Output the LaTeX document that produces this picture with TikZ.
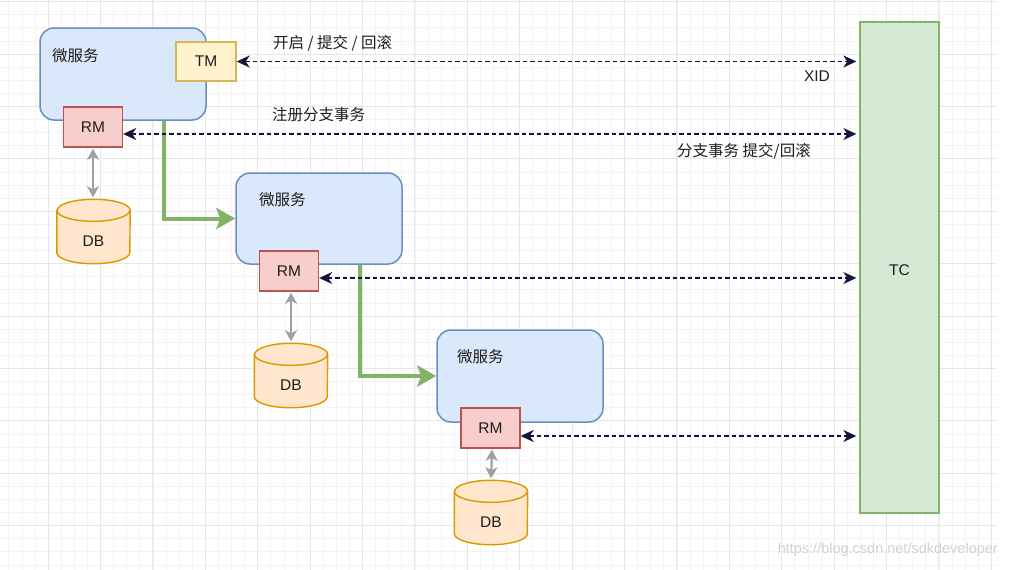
\documentclass[tikz,border=0pt]{standalone}
\usepackage{fontspec}
\setmainfont{Liberation Sans}
\newfontfamily\cjk{Noto Sans CJK SC}
\usetikzlibrary{arrows.meta}
\definecolor{msfill}{HTML}{DAE8FC}
\definecolor{msline}{HTML}{6C8EBF}
\definecolor{tmfill}{HTML}{FFF2CC}
\definecolor{tmline}{HTML}{D6B656}
\definecolor{rmfill}{HTML}{F8CECC}
\definecolor{rmline}{HTML}{B85450}
\definecolor{dbfill}{HTML}{FFE6CC}
\definecolor{dbline}{HTML}{D79B00}
\definecolor{tcfill}{HTML}{D5E8D4}
\definecolor{tcline}{HTML}{82B366}
\definecolor{flow}{HTML}{82B366}
\definecolor{navy}{HTML}{14143C}
\definecolor{txt}{HTML}{1E1E1E}
\definecolor{dbarr}{HTML}{A0A0A0}
\definecolor{gridmajor}{HTML}{E6E6E6}
\definecolor{gridminor}{HTML}{F3F3F3}
\definecolor{wm}{HTML}{D2D2D2}
\tikzset{
  lbl/.style={inner sep=0pt, text=txt, font=\fontsize{15.5}{18}\selectfont},
  msbox/.style={draw=msline, fill=msfill, line width=1.5pt, rounded corners=14pt, minimum width=166pt, minimum height=92pt, inner sep=0pt},
  tmbox/.style={draw=tmline, fill=tmfill, line width=1.4pt, minimum width=60pt, minimum height=39pt, inner sep=0pt, text=txt, font=\fontsize{15.5}{18}\selectfont},
  rmbox/.style={draw=rmline, fill=rmfill, line width=1.4pt, minimum width=59pt, minimum height=40pt, inner sep=0pt, text=txt, font=\fontsize{15.5}{18}\selectfont},
  dbbox/.style={minimum width=73pt, minimum height=64pt, inner sep=0pt},
  dbbody/.style={draw=dbline, fill=dbfill, line width=1.4pt},
  dbrim/.style={draw=dbline, line width=1.4pt},
  tcbox/.style={draw=tcline, fill=tcfill, line width=1.4pt, minimum width=79pt, minimum height=491pt, inner sep=0pt},
  flowarrow/.style={draw=flow, line width=4pt, -{Stealth[length=19pt,width=21pt,inset=4pt]}},
  dbarrow/.style={draw=dbarr, line width=2.2pt, {Stealth[length=11pt,width=12pt,inset=3pt]}-{Stealth[length=11pt,width=12pt,inset=3pt]}},
  callarrow/.style={draw=navy, line width=1.6pt, dash pattern=on 4.5pt off 3pt, {Stealth[length=13pt,width=12pt,inset=4pt]}-{Stealth[length=13pt,width=12pt,inset=4pt]}, shorten >=3pt},
}
\newcommand{\dbdraw}[1]{%
  \path[dbbody] ([yshift=-11pt]#1.north west) -- ([yshift=11pt]#1.south west)
    arc[start angle=180,end angle=360,x radius=36.5pt,y radius=11pt]
    -- ([yshift=-11pt]#1.north east)
    arc[start angle=0,end angle=180,x radius=36.5pt,y radius=11pt] -- cycle;
  \draw[dbrim] ([yshift=-11pt]#1.north west)
    arc[start angle=180,end angle=360,x radius=36.5pt,y radius=11pt];
}
\begin{document}
\begin{tikzpicture}[x=1pt,y=-1pt]
\useasboundingbox[fill=white] (0,0) rectangle (1009,570);
% grid
\begin{scope}
\clip (0,0) rectangle (997,570);
\foreach \i in {0,...,77} {
  \draw[gridminor, line width=0.8pt] ({-4.3+13.1*\i},0) -- ({-4.3+13.1*\i},570);
}
\foreach \i in {0,...,44} {
  \draw[gridminor, line width=0.8pt] (0,{1.6+13.1*\i}) -- (997,{1.6+13.1*\i});
}
\foreach \i in {0,...,19} {
  \draw[gridmajor, line width=1pt] ({-4.3+52.4*\i},0) -- ({-4.3+52.4*\i},570);
}
\foreach \i in {0,...,11} {
  \draw[gridmajor, line width=1pt] (0,{1.6+52.4*\i}) -- (997,{1.6+52.4*\i});
}
\end{scope}

% TC
\node[tcbox] (tc) at (899.5,267.5) {};
\node[lbl] (tct) at (899.5,270) {TC};

% microservices
\node[msbox] (ms1) at (123,74) {};
\node[msbox, minimum height=91pt] (ms2) at (319,218.5) {};
\node[msbox] (ms3) at (520,376) {};
\node[lbl, anchor=west] (ms1t) at (52,56) {\cjk 微服务};
\node[lbl, anchor=west] (ms2t) at (259,200) {\cjk 微服务};
\node[lbl, anchor=west] (ms3t) at (457,357) {\cjk 微服务};

% flow arrows
\draw[flowarrow] ([xshift=41pt]ms1.south) |- (ms2.west);
\draw[flowarrow] ([xshift=41pt]ms2.south) |- (ms3.west);

% TM / RM
\node[tmbox] (tm) at (206,61.5) {TM};
\node[rmbox] (rm1) at (93,127) {RM};
\node[rmbox] (rm2) at (289,271) {RM};
\node[rmbox] (rm3) at (490.5,428) {RM};

% DBs
\node[dbbox] (db1) at (93.5,231.5) {};
\node[dbbox] (db2) at (291,375.5) {};
\node[dbbox] (db3) at (491,512.5) {};
\dbdraw{db1}
\dbdraw{db2}
\dbdraw{db3}
\node[lbl] (db1t) at ([yshift=-10pt]db1.center) {DB};
\node[lbl] (db2t) at ([yshift=-10pt]db2.center) {DB};
\node[lbl] (db3t) at ([yshift=-10pt]db3.center) {DB};

\draw[dbarrow] ([yshift=-1pt]rm1.south) -- ([yshift=2pt]db1.north -| rm1.south);
\draw[dbarrow] ([xshift=2pt,yshift=-1pt]rm2.south) -- ([yshift=2pt]db2.north);
\draw[dbarrow] ([xshift=1.5pt,yshift=-1pt]rm3.south) -- ([yshift=2pt]db3.north);

% calls to TC
\coordinate (c0) at (tm.east);
\path ([yshift=-7pt]rm1.east) coordinate (c1);
\path ([yshift=-7pt]rm2.east) coordinate (c2);
\path ([yshift=-8pt]rm3.east) coordinate (c3);
\draw[callarrow] (c0) -- (c0 -| tc.west);
\draw[callarrow] (c1) -- (c1 -| tc.west);
\draw[callarrow] (c2) -- (c2 -| tc.west);
\draw[callarrow] (c3) -- (c3 -| tc.west);

% labels
\node[lbl, anchor=west] (l1) at (273,43) {\cjk 开启 / 提交 / 回滚};
\node[lbl] (l2) at (817,76) {XID};
\node[lbl, anchor=west] (l3) at (272,115) {\cjk 注册分支事务};
\node[lbl, anchor=west] (l4) at (677,151) {\cjk 分支事务 提交/回滚};

% watermark
\node[inner sep=0pt, anchor=east, text=wm, font=\fontsize{14.5}{17}\selectfont] (wmk) at (998,550) {https://blog.csdn.net/sdkdeveloper};
\end{tikzpicture}
\end{document}
